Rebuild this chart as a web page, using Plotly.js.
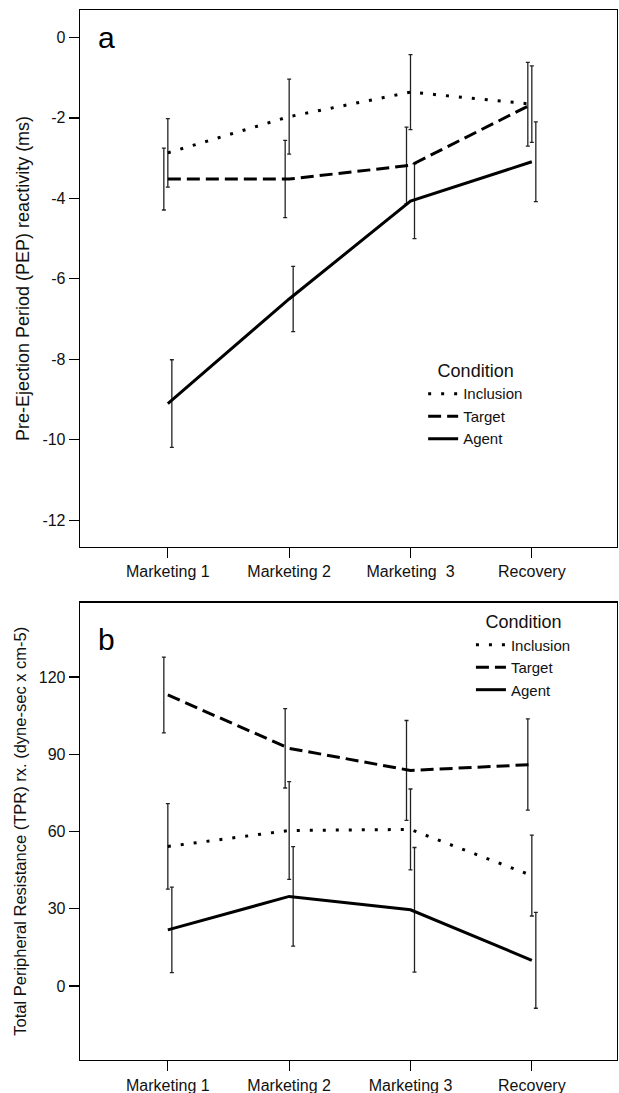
<!DOCTYPE html>
<html>
<head>
<meta charset="utf-8">
<script src="https://cdn.plot.ly/plotly-3.0.1.min.js"></script>
<style>html,body{margin:0;padding:0;background:#fff;}#chart{width:619px;height:1093px;}</style>
</head>
<body>
<div id="chart"></div>
<script>
// ---- Data ----
const categoriesA = ["Marketing 1", "Marketing 2", "Marketing  3", "Recovery"];
const categoriesB = ["Marketing 1", "Marketing 2", "Marketing 3", "Recovery"];
const seriesNames = ["Inclusion", "Target", "Agent"];

// Panel a: PEP reactivity (ms)
const pepInclusion = [-2.87, -1.97, -1.36, -1.66];
const pepInclusionErr = [0.85, 0.93, 0.93, 0.95];
const pepTarget = [-3.52, -3.52, -3.18, -1.66];
const pepTargetErr = [0.77, 0.96, 0.95, 1.04];
const pepAgent = [-9.10, -6.50, -4.07, -3.09];
const pepAgentErr = [1.09, 0.81, 0.93, 0.99];
const pepTicks = [0, -2, -4, -6, -8, -10, -12];

// Panel b: TPR reactivity (dyne-sec x cm-5)
const tprInclusion = [54.2, 60.4, 60.8, 42.9];
const tprInclusionErr = [16.6, 19.0, 15.7, 15.7];
const tprTarget = [113.0, 92.3, 83.7, 86.0];
const tprTargetErr = [14.7, 15.4, 19.4, 17.7];
const tprAgent = [21.8, 34.8, 29.6, 10.0];
const tprAgentErr = [16.6, 19.3, 24.2, 18.6];
const tprTicks = [0, 30, 60, 90, 120];

// ---- Styling ----
const FONT = "Liberation Sans, Arial, sans-serif";
const dashes = {Inclusion: "3px,10px", Target: "13px,6px", Agent: "solid"};
const dodge = {Inclusion: 0, Target: -0.033, Agent: 0.033};
const idx = categoriesA.map((_, i) => i);

function lineTrace(name, y, xa, ya, legend, show) {
  return {
    type: "scatter", mode: "lines", name: name, x: idx, y: y,
    xaxis: xa, yaxis: ya, legend: legend, showlegend: show,
    line: {color: "#000", width: 3, dash: dashes[name]},
    hoverinfo: "skip"
  };
}
function errTrace(name, y, e, xa, ya) {
  return {
    type: "scatter", mode: "markers", name: name + " CI",
    x: idx.map(i => i + dodge[name]), y: y,
    xaxis: xa, yaxis: ya, showlegend: false,
    marker: {size: 1, color: "rgba(0,0,0,0)"},
    error_y: {type: "data", array: e, visible: true, color: "#222", thickness: 1.3, width: 2},
    hoverinfo: "skip"
  };
}

const traces = [
  errTrace("Inclusion", pepInclusion, pepInclusionErr, "x", "y"),
  errTrace("Target", pepTarget, pepTargetErr, "x", "y"),
  errTrace("Agent", pepAgent, pepAgentErr, "x", "y"),
  lineTrace("Inclusion", pepInclusion, "x", "y", "legend", true),
  lineTrace("Target", pepTarget, "x", "y", "legend", true),
  lineTrace("Agent", pepAgent, "x", "y", "legend", true),
  errTrace("Inclusion", tprInclusion, tprInclusionErr, "x2", "y2"),
  errTrace("Target", tprTarget, tprTargetErr, "x2", "y2"),
  errTrace("Agent", tprAgent, tprAgentErr, "x2", "y2"),
  lineTrace("Inclusion", tprInclusion, "x2", "y2", "legend2", true),
  lineTrace("Target", tprTarget, "x2", "y2", "legend2", true),
  lineTrace("Agent", tprAgent, "x2", "y2", "legend2", true)
];

const axBase = {
  showline: true, linecolor: "#000", linewidth: 1.3, mirror: true,
  showgrid: false, zeroline: false, ticks: "outside", ticklen: 10,
  tickcolor: "#000", tickwidth: 1.3,
  tickfont: {family: FONT, size: 16, color: "#111"}
};

const legendBase = {
  xref: "paper", yref: "paper", xanchor: "left", yanchor: "top",
  bgcolor: "rgba(0,0,0,0)", borderwidth: 0,
  font: {family: FONT, size: 15, color: "#111"},
  title: {text: "Condition", side: "top center", font: {family: FONT, size: 18, color: "#111"}},
  itemwidth: 30, tracegroupgap: 0
};

const layout = {
  width: 619, height: 1093,
  margin: {l: 80, r: 2, t: 10, b: 33},
  paper_bgcolor: "#fff", plot_bgcolor: "#fff",
  font: {family: FONT, color: "#111"},
  xaxis: Object.assign({}, axBase, {
    domain: [0, 1], anchor: "y", range: [-0.724, 3.702],
    tickmode: "array", tickvals: idx, ticktext: categoriesA
  }),
  yaxis: Object.assign({}, axBase, {
    domain: [0.4887, 1], anchor: "x", range: [-12.66, 0.68],
    tickmode: "array", tickvals: pepTicks, ticktext: pepTicks.map(String),
    title: {text: "Pre-Ejection Period (PEP) reactivity (ms)", font: {family: FONT, size: 18, color: "#111"}, standoff: 8}
  }),
  xaxis2: Object.assign({}, axBase, {
    domain: [0, 1], anchor: "y2", range: [-0.724, 3.702],
    tickmode: "array", tickvals: idx, ticktext: categoriesB
  }),
  yaxis2: Object.assign({}, axBase, {
    domain: [0, 0.4357], anchor: "x2", range: [-28.7, 148.9],
    tickmode: "array", tickvals: tprTicks, ticktext: tprTicks.map(String),
    title: {text: "Total Peripheral Resistance (TPR) rx. (dyne-sec x cm-5)", font: {family: FONT, size: 16.5, color: "#111"}, standoff: 8}
  }),
  legend: Object.assign({}, legendBase, {x: 0.639, y: 0.6724}),
  legend2: Object.assign({}, legendBase, {x: 0.728, y: 0.4333}),
  annotations: [
    {text: "a", xref: "x domain", yref: "y domain", x: 0.03, y: 0.948, xanchor: "left", yanchor: "middle",
     showarrow: false, font: {family: FONT, size: 30, color: "#000"}},
    {text: "b", xref: "x2 domain", yref: "y2 domain", x: 0.03, y: 0.92, xanchor: "left", yanchor: "middle",
     showarrow: false, font: {family: FONT, size: 30, color: "#000"}}
  ]
};

Plotly.newPlot("chart", traces, layout, {displayModeBar: false, staticPlot: true});
</script>
</body>
</html>
